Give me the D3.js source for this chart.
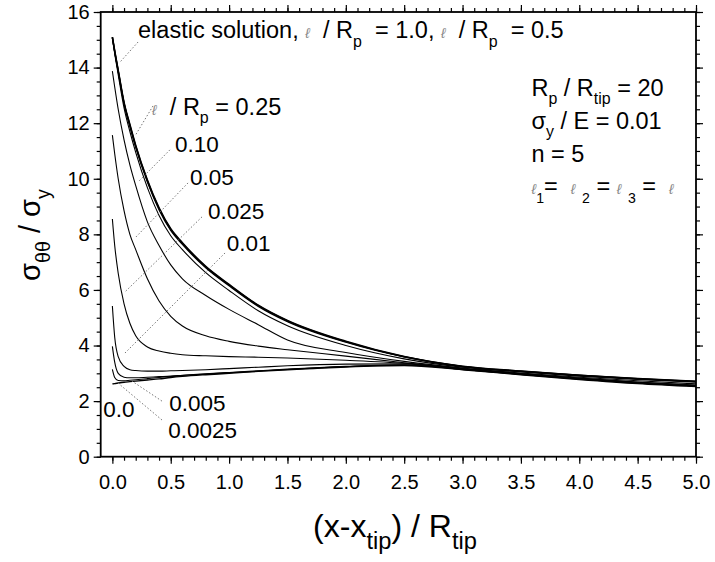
<!DOCTYPE html>
<html>
<script src="https://d3js.org/d3.v7.min.js"></script>

<head>
    <style>
        body {
            margin: 0;
            background-color: #ffffff;
            font-family: "Liberation Sans", Arial, Helvetica, sans-serif;
        }

        svg {
            display: block;
        }

        text {
            white-space: pre;
        }
    </style>
</head>

<body>
</body>
<script>
    const width = 715,
        height = 562;

    // x positions shared by all curves, (x - x_tip) / R_tip
    const XS = [0, 0.02, 0.05, 0.1, 0.15, 0.2, 0.3, 0.4, 0.5, 0.6, 0.8, 1.0, 1.25, 1.5, 2.0, 2.5, 3.0, 3.5, 4.0, 4.5, 5.0];

    // sigma_thetatheta / sigma_y
    const ELASTIC = [15.1, 14.6, 13.9, 12.75, 11.95, 11.2, 9.95, 8.95, 8.2, 7.7, 6.85, 6.2, 5.45, 4.9, 4.15, 3.6, 3.25, 3.08, 2.93, 2.81, 2.71];
    const L_100 = [15.1, 14.59, 13.89, 12.73, 11.93, 11.18, 9.93, 8.93, 8.18, 7.68, 6.83, 6.18, 5.44, 4.89, 4.14, 3.6, 3.25, 3.08, 2.93, 2.81, 2.71];
    const L_050 = [15.09, 14.57, 13.86, 12.7, 11.89, 11.14, 9.89, 8.89, 8.14, 7.64, 6.8, 6.15, 5.41, 4.86, 4.12, 3.59, 3.24, 3.07, 2.92, 2.8, 2.7];
    const L_025 = [15.06, 14.5, 13.75, 12.55, 11.7, 10.95, 9.68, 8.68, 7.95, 7.45, 6.62, 5.98, 5.25, 4.71, 4.0, 3.52, 3.22, 3.05, 2.9, 2.78, 2.68];
    const L_010 = [13.87, 13.3, 12.5, 11.4, 10.5, 9.75, 8.45, 7.6, 6.9, 6.4, 5.8, 5.3, 4.75, 4.2, 3.75, 3.43, 3.19, 3.01, 2.86, 2.73, 2.62];
    const L_005 = [11.57, 10.9, 10.0, 8.85, 8.0, 7.45, 6.4, 5.6, 5.05, 4.7, 4.35, 4.15, 3.98, 3.85, 3.62, 3.38, 3.17, 2.99, 2.83, 2.69, 2.58];
    const L_0025 = [8.55, 7.6, 6.6, 5.5, 4.8, 4.35, 3.95, 3.8, 3.72, 3.67, 3.63, 3.6, 3.58, 3.55, 3.47, 3.36, 3.16, 2.98, 2.82, 2.68, 2.56];
    const L_001 = [5.42, 4.3, 3.6, 3.25, 3.13, 3.1, 3.08, 3.08, 3.09, 3.1, 3.13, 3.17, 3.22, 3.27, 3.33, 3.34, 3.15, 2.97, 2.81, 2.66, 2.55];
    const L_0005 = [3.97, 3.4, 3.0, 2.86, 2.84, 2.84, 2.86, 2.88, 2.9, 2.93, 2.98, 3.03, 3.09, 3.15, 3.25, 3.31, 3.14, 2.96, 2.8, 2.65, 2.54];
    const L_00025 = [3.14, 2.85, 2.74, 2.73, 2.75, 2.77, 2.81, 2.85, 2.88, 2.92, 2.97, 3.02, 3.08, 3.14, 3.24, 3.3, 3.14, 2.96, 2.79, 2.64, 2.53];
    const L_0 = [2.62, 2.63, 2.65, 2.68, 2.7, 2.72, 2.76, 2.8, 2.85, 2.89, 2.95, 3.0, 3.07, 3.13, 3.23, 3.28, 3.13, 2.95, 2.78, 2.63, 2.52];

    const X_TICKS = [0, 0.5, 1.0, 1.5, 2.0, 2.5, 3.0, 3.5, 4.0, 4.5, 5.0];
    const Y_TICKS = [0, 2, 4, 6, 8, 10, 12, 14, 16];

    const svg = d3.select("body").append("svg").attr("width", width).attr("height", height);
    const x = d3.scaleLinear().domain([-0.1, 5.0]).range([100.7, 696]);
    const y = d3.scaleLinear().domain([0, 16]).range([456.7, 12]);

    function draw() {
        const xMinor = d3.range(0, 5.001, 0.1).map(v => +v.toFixed(1));
        const yMinor = d3.range(0, 16.001, 0.5);

        // minor ticks, all four sides, pointing outward
        svg.append("g").attr("transform", `translate(0,${y(0)})`)
            .call(d3.axisBottom(x).tickValues(xMinor).tickSize(4).tickSizeOuter(0).tickFormat(""));
        svg.append("g").attr("transform", `translate(0,${y(16)})`)
            .call(d3.axisTop(x).tickValues(xMinor).tickSize(4).tickSizeOuter(0).tickFormat(""));
        svg.append("g").attr("transform", `translate(${x(-0.1)},0)`)
            .call(d3.axisLeft(y).tickValues(yMinor).tickSize(4).tickSizeOuter(0).tickFormat(""));
        svg.append("g").attr("transform", `translate(${x(5)},0)`)
            .call(d3.axisRight(y).tickValues(yMinor).tickSize(4).tickSizeOuter(0).tickFormat(""));

        // major ticks with labels
        const xb = svg.append("g").attr("transform", `translate(0,${y(0)})`)
            .call(d3.axisBottom(x).tickValues(X_TICKS).tickSize(7).tickSizeOuter(0).tickPadding(11).tickFormat(d3.format(".1f")));
        const yl = svg.append("g").attr("transform", `translate(${x(-0.1)},0)`)
            .call(d3.axisLeft(y).tickValues(Y_TICKS).tickSize(7).tickSizeOuter(0).tickPadding(4).tickFormat(d3.format("d")));
        svg.append("g").attr("transform", `translate(0,${y(16)})`)
            .call(d3.axisTop(x).tickValues(X_TICKS).tickSize(7).tickSizeOuter(0).tickFormat(""));
        svg.append("g").attr("transform", `translate(${x(5)},0)`)
            .call(d3.axisRight(y).tickValues(Y_TICKS).tickSize(7).tickSizeOuter(0).tickFormat(""));

        svg.selectAll(".domain").remove();
        svg.selectAll(".tick line").attr("stroke", "#000").attr("stroke-width", 1.2);
        xb.selectAll("text").attr("font-size", 20).attr("font-family", "Liberation Sans, Arial").attr("fill", "#000");
        yl.selectAll("text").attr("font-size", 20).attr("font-family", "Liberation Sans, Arial").attr("fill", "#000");

        // frame
        svg.append("rect")
            .attr("x", x(-0.1)).attr("y", y(16))
            .attr("width", x(5) - x(-0.1)).attr("height", y(0) - y(16))
            .attr("fill", "none").attr("stroke", "#000").attr("stroke-width", 1.8);

        // curves
        const line = d3.line()
            .x((d, i) => x(XS[i]))
            .y(d => y(d))
            .curve(d3.curveMonotoneX);
        const curves = [
            [ELASTIC, 1.6], [L_100, 1.4], [L_050, 1.4], [L_025, 1.1], [L_010, 1.1], [L_005, 1.1],
            [L_0025, 1.1], [L_001, 1.1], [L_0005, 1.1], [L_00025, 1.1], [L_0, 1.4]
        ];
        curves.forEach(c => {
            svg.append("path")
                .attr("d", line(c[0]))
                .attr("fill", "none")
                .attr("stroke", "#000")
                .attr("stroke-width", c[1]);
        });

        // dotted leaders from labels to curves
        const leaders = [
            [0.22, 14.92, 0.066, 14.2], [0.348, 12.62, 0.194, 11.54], [0.493, 11.04, 0.219, 9.88],
            [0.648, 9.85, 0.194, 7.87], [0.768, 8.63, 0.108, 5.93], [0.965, 7.33, 0.108, 3.73],
            [0.425, 2.0, 0.168, 2.72], [0.425, 1.32, 0.048, 2.65]
        ];
        leaders.forEach(l => {
            svg.append("line")
                .attr("x1", x(l[0])).attr("y1", y(l[1]))
                .attr("x2", x(l[2])).attr("y2", y(l[3]))
                .attr("stroke", "#777").attr("stroke-width", 1)
                .attr("stroke-dasharray", "1.5,2");
        });

        const ell = ["\u2113", "ell"];
        richText(x(0.22), y(15.05), [["elastic solution, "], ell, ["  / R"], ["p", "sub"], ["  = 1.0, "], ell, ["  / R"], ["p", "sub"], ["  = 0.5"]], 23.5);
        richText(x(0.34), y(12.3), [ell, ["  / R"], ["p", "sub"], [" = 0.25"]], 23.5);
        richText(x(0.536), y(10.97), [["0.10"]], 22.5);
        richText(x(0.665), y(9.78), [["0.05"]], 22.5);
        richText(x(0.82), y(8.54), [["0.025"]], 22.5);
        richText(x(0.98), y(7.41), [["0.01"]], 22.5);
        richText(x(-0.078), y(1.44), [["0.0"]], 22.5);
        richText(x(0.487), y(1.64), [["0.005"]], 22.5);
        richText(x(0.479), y(0.66), [["0.0025"]], 22.5);

        richText(x(3.59), y(12.98), [["R"], ["p", "sub"], [" / R"], ["tip", "sub"], [" = 20"]], 23.5);
        richText(x(3.59), y(11.79), [["\u03c3"], ["y", "sub"], [" / E = 0.01"]], 23.5);
        richText(x(3.59), y(10.6), [["n = 5"]], 23.5);
        richText(x(3.59), y(9.45), [ell, ["1", "sub"], ["=  "], ell, [" "], ["2", "sub"], [" = "], ell, [" "], ["3", "sub"], [" =  "], ell], 23.5, "start", 0.6);

        // axis titles
        richText(395, 537, [["(x-x"], ["tip", "sub"], [") / R"], ["tip", "sub"]], 32, "middle", 0.74);
        const yt = richText(0, 0, [["\u03c3"], ["\u03b8\u03b8", "sub"], [" / \u03c3"], ["y", "sub"]], 29, "middle");
        yt.attr("transform", "translate(40,235) rotate(-90)");
    }

    function richText(x0, y0, parts, size, anchor, subScale) {
        const t = svg.append("text")
            .attr("x", x0).attr("y", y0)
            .attr("font-size", size)
            .attr("fill", "#000")
            .attr("text-anchor", anchor || "start");
        let shift = 0;
        parts.forEach(p => {
            const ts = t.append("tspan").text(p[0]);
            if (p[1] === "sub") {
                const s = size * 0.36;
                ts.attr("font-size", size * (subScale || 0.68)).attr("dy", s - shift);
                shift = s;
            } else {
                if (shift) ts.attr("dy", -shift);
                shift = 0;
                if (p[1] === "ell") {
                    ts.attr("font-size", size * 0.62).attr("fill", "#8a8a8a").attr("font-style", "italic");
                }
            }
        });
        return t;
    }

    draw();
</script>

</html>
